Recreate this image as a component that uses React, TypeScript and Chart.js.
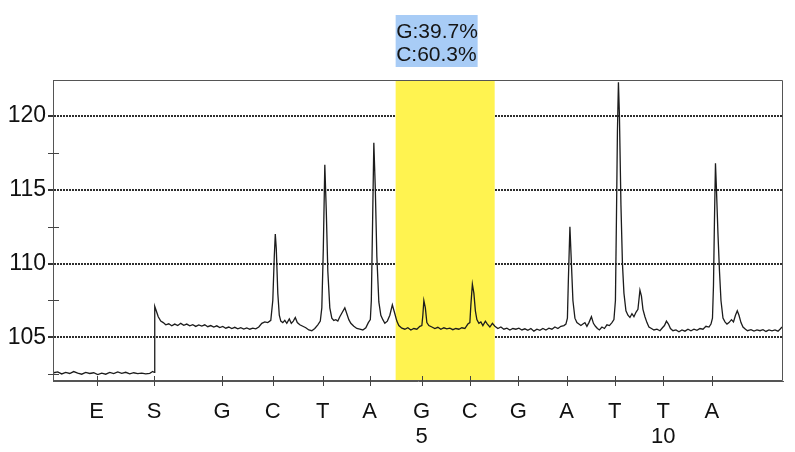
import React, { useEffect, useRef } from 'react';
import { Chart, registerables } from 'chart.js';

Chart.register(...registerables);

// Dispensation order (x positions in run-time units), letters and cycle numbers
const dispensationPositions = [8.7, 20.2, 33.8, 43.9, 53.9, 63.3, 73.7, 83.3, 93.0, 102.7, 112.3, 122.0, 131.7];
const dispensationLetters = ['E', 'S', 'G', 'C', 'T', 'A', 'G', 'C', 'G', 'A', 'T', 'T', 'A'];
const dispensationNumbers = ['', '', '', '', '', '', '5', '', '', '', '', '10', ''];

// Y axis
const yMajorTicks = [105, 110, 115, 120];
const yMinorTicks = [102.5, 107.5, 112.5, 117.5];
const yMin = 102.04;
const yMax = 122.45;
const xMin = 0;
const xMax = 145.94;

// Highlighted SNP position and allele quantification
const highlightRange = [68.5, 88.3];
const highlightLabels = ['G:39.7%', 'C:60.3%'];

// Pyrogram trace: [time, signal]
const trace: [number, number][] = [
  [0.14, 102.6], [0.94, 102.66], [1.74, 102.52], [2.54, 102.62], [3.34, 102.55], [4.14, 102.68],
  [4.94, 102.58], [5.74, 102.5], [6.54, 102.62], [7.34, 102.55], [8.14, 102.6], [8.94, 102.48],
  [9.74, 102.57], [10.54, 102.5], [11.34, 102.62], [12.14, 102.54], [12.94, 102.66], [13.74, 102.56],
  [14.54, 102.63], [15.34, 102.52], [16.14, 102.6], [16.94, 102.54], [17.74, 102.58], [18.54, 102.52],
  [19.34, 102.56], [19.94, 102.68], [20.24, 102.62],
  [20.34, 107.1], [20.64, 106.8], [21.04, 106.4], [21.54, 106.1], [22.04, 106.0], [22.54, 105.85],
  [23.14, 105.92], [23.74, 105.78], [24.34, 105.9], [24.94, 105.8], [25.54, 105.95], [26.14, 105.82],
  [26.74, 105.9], [27.34, 105.78], [27.94, 105.86], [28.54, 105.74], [29.14, 105.84], [29.74, 105.76],
  [30.34, 105.85], [30.94, 105.72], [31.54, 105.8], [32.14, 105.7], [32.74, 105.78], [33.34, 105.66],
  [33.94, 105.74], [34.54, 105.62], [35.14, 105.7], [35.74, 105.6], [36.34, 105.68], [36.94, 105.58],
  [37.54, 105.66], [38.14, 105.56], [38.74, 105.64], [39.34, 105.55], [39.94, 105.62], [40.54, 105.58],
  [41.14, 105.7], [41.74, 105.95], [42.34, 106.05], [42.94, 106.0], [43.54, 106.15],
  [43.94, 107.5], [44.24, 110.5], [44.44, 112.0], [44.64, 111.0], [44.94, 108.0], [45.24, 106.5],
  [45.54, 106.1], [45.94, 106.0], [46.34, 106.15], [46.74, 105.95], [47.24, 106.25], [47.64, 105.95],
  [48.04, 106.1], [48.44, 106.35], [48.84, 106.0], [49.34, 105.85], [49.94, 105.75], [50.54, 105.65],
  [51.14, 105.5], [51.74, 105.45], [52.34, 105.6], [52.94, 105.85], [53.44, 106.1],
  [53.74, 107.0], [54.04, 111.0], [54.34, 116.7], [54.64, 113.5], [54.94, 109.5], [55.34, 107.0],
  [55.74, 106.3], [56.14, 106.15], [56.54, 106.2], [56.94, 106.1], [57.34, 106.4], [57.84, 106.7],
  [58.34, 107.0], [58.74, 106.6], [59.14, 106.2], [59.54, 105.95], [60.14, 105.75], [60.74, 105.6],
  [61.34, 105.55], [61.94, 105.5], [62.54, 105.65], [63.04, 106.0], [63.44, 106.2],
  [63.64, 107.5], [63.9, 113.0], [64.14, 118.2], [64.44, 115.0], [64.74, 110.5], [65.14, 107.4],
  [65.54, 106.5], [65.94, 106.2], [66.34, 105.95], [66.84, 106.1], [67.34, 106.5], [67.84, 107.2],
  [68.34, 106.6], [68.74, 106.1], [69.14, 105.8], [69.74, 105.62], [70.34, 105.55], [70.94, 105.65],
  [71.54, 105.5], [72.14, 105.6], [72.74, 105.55], [73.34, 105.75], [73.74, 105.8],
  [73.94, 106.5], [74.14, 107.5], [74.44, 107.0], [74.74, 106.0], [75.14, 105.8], [75.74, 105.7],
  [76.34, 105.6], [76.94, 105.68], [77.54, 105.55], [78.14, 105.65], [78.74, 105.58], [79.34, 105.62],
  [79.94, 105.52], [80.54, 105.6], [81.14, 105.55], [81.74, 105.65], [82.34, 105.6], [82.94, 105.9],
  [83.34, 106.0], [83.54, 107.2], [83.84, 108.6], [84.14, 108.0], [84.44, 106.8], [84.74, 106.2],
  [85.14, 105.95], [85.54, 106.05], [85.94, 105.8], [86.44, 106.1], [86.84, 105.9], [87.34, 105.7],
  [87.84, 105.95], [88.34, 105.75], [88.94, 105.6], [89.54, 105.7], [90.14, 105.55], [90.74, 105.62],
  [91.34, 105.5], [91.94, 105.6], [92.54, 105.55], [93.14, 105.62], [93.74, 105.5], [94.34, 105.58],
  [94.94, 105.48], [95.54, 105.6], [96.14, 105.42], [96.74, 105.55], [97.34, 105.48], [97.94, 105.6],
  [98.54, 105.5], [99.14, 105.62], [99.74, 105.55], [100.34, 105.7], [100.94, 105.6], [101.54, 105.75],
  [102.14, 105.8], [102.54, 105.9], [102.84, 106.3],
  [103.04, 109.0], [103.34, 112.5], [103.64, 110.0], [103.94, 107.5], [104.34, 106.3], [104.74, 106.0],
  [105.14, 105.9], [105.54, 105.8], [105.94, 105.9], [106.34, 106.0], [106.74, 105.75], [107.14, 106.0],
  [107.64, 106.4], [108.04, 105.95], [108.44, 105.75], [108.84, 105.6], [109.24, 105.5], [109.74, 105.7],
  [110.24, 105.6], [110.74, 105.85], [111.24, 105.8], [111.74, 106.0], [112.14, 106.2],
  [112.44, 107.5], [112.64, 113.0], [112.84, 119.0], [113.04, 122.3], [113.24, 120.0], [113.54, 114.0],
  [113.84, 110.0], [114.14, 108.0], [114.54, 106.8], [114.94, 106.5], [115.34, 106.35], [115.74, 106.6],
  [116.14, 106.4], [116.54, 106.7], [116.94, 106.9], [117.34, 108.2], [117.64, 107.8], [117.94, 106.9],
  [118.34, 106.4], [118.74, 106.0], [119.14, 105.7], [119.64, 105.6], [120.14, 105.5], [120.74, 105.55],
  [121.34, 105.45], [121.84, 105.65], [122.24, 105.8], [122.64, 106.1], [123.04, 105.9], [123.44, 105.6],
  [123.94, 105.45], [124.54, 105.5], [125.14, 105.38], [125.74, 105.5], [126.34, 105.42], [126.94, 105.55],
  [127.54, 105.45], [128.14, 105.55], [128.74, 105.48], [129.34, 105.6], [129.94, 105.55], [130.54, 105.75],
  [131.14, 105.7], [131.54, 105.9], [131.84, 106.3],
  [132.04, 108.5], [132.24, 113.0], [132.44, 116.8], [132.64, 115.0], [132.94, 112.0], [133.24, 109.5],
  [133.54, 107.5], [133.94, 106.3], [134.34, 106.05], [134.74, 105.9], [135.14, 106.0], [135.64, 106.2],
  [136.04, 106.05], [136.44, 106.5], [136.8, 106.8], [137.14, 106.5], [137.54, 106.0], [137.94, 105.7],
  [138.44, 105.55], [138.84, 105.45], [139.54, 105.52], [140.14, 105.42], [140.74, 105.5], [141.34, 105.45],
  [141.94, 105.52], [142.54, 105.4], [143.14, 105.5], [143.74, 105.44], [144.34, 105.5], [144.94, 105.42],
  [145.34, 105.55], [145.74, 105.7],
];

const FONT = '"Liberation Sans", Arial, Helvetica, sans-serif';
const YELLOW = 'rgb(255, 243, 80)';
const BLUE = 'rgb(168, 204, 246)';
const FRAME = '#555555';

const decorPlugin = {
  id: 'pyroDecor',
  beforeDatasetsDraw(chart: any) {
    const { ctx, chartArea, scales } = chart;
    const x0 = scales.x.getPixelForValue(highlightRange[0]);
    const x1 = scales.x.getPixelForValue(highlightRange[1]);
    ctx.save();
    ctx.fillStyle = YELLOW;
    ctx.fillRect(x0, chartArea.top, x1 - x0, chartArea.bottom - chartArea.top);
    ctx.restore();
  },
  afterDraw(chart: any) {
    const { ctx, chartArea, scales } = chart;
    const { left, right, top, bottom } = chartArea;
    ctx.save();
    // frame
    ctx.strokeStyle = FRAME;
    ctx.lineWidth = 1;
    ctx.beginPath();
    ctx.moveTo(left + 0.5, top + 0.5);
    ctx.lineTo(right - 0.5, top + 0.5);
    ctx.lineTo(right - 0.5, bottom - 0.5);
    ctx.lineTo(left + 0.5, bottom - 0.5);
    ctx.closePath();
    ctx.stroke();
    // x ticks crossing the axis
    ctx.strokeStyle = '#444';
    ctx.beginPath();
    dispensationPositions.forEach((v) => {
      const px = Math.round(scales.x.getPixelForValue(v)) + 0.5;
      ctx.moveTo(px, bottom - 5);
      ctx.lineTo(px, bottom + 5);
    });
    // y minor ticks crossing the axis
    yMinorTicks.forEach((v) => {
      const py = Math.round(scales.y.getPixelForValue(v)) + 0.5;
      ctx.moveTo(left - 5, py);
      ctx.lineTo(left + 6, py);
    });
    ctx.stroke();
    // allele box
    const bx = scales.x.getPixelForValue(highlightRange[0]);
    ctx.fillStyle = BLUE;
    ctx.fillRect(bx, 15, 82, 52);
    ctx.fillStyle = '#151515';
    ctx.font = `21px ${FONT}`;
    ctx.textAlign = 'left';
    ctx.textBaseline = 'middle';
    ctx.fillText(highlightLabels[0], bx + 0.5, 32);
    ctx.fillText(highlightLabels[1], bx + 0.5, 55);
    ctx.restore();
  },
};

export default function App() {
  const canvasRef = useRef<HTMLCanvasElement | null>(null);

  useEffect(() => {
    if (!canvasRef.current) return;
    const chart = new Chart(canvasRef.current, {
      type: 'line',
      data: {
        datasets: [
          {
            data: trace.map(([x, y]) => ({ x, y })),
            borderColor: '#1c1c1c',
            borderWidth: 1.3,
            pointRadius: 0,
            tension: 0,
            fill: false,
          },
        ],
      },
      options: {
        animation: false,
        responsive: false,
        maintainAspectRatio: false,
        devicePixelRatio: 1,
        layout: { padding: { top: 80, right: 12, left: 0, bottom: 0 } },
        plugins: { legend: { display: false }, tooltip: { enabled: false } },
        scales: {
          x: {
            type: 'linear',
            min: xMin,
            max: xMax,
            afterBuildTicks: (scale: any) => {
              scale.ticks = dispensationPositions.map((v) => ({ value: v }));
            },
            afterFit: (scale: any) => {
              scale.height = 71;
            },
            grid: { display: false, drawTicks: false },
            border: { display: true, color: FRAME, width: 1 },
            ticks: {
              autoSkip: false,
              maxRotation: 0,
              padding: 18,
              color: '#111',
              font: { family: FONT, size: 22, lineHeight: 1.14 },
              callback: (_v: any, i: number) =>
                dispensationNumbers[i] ? [dispensationLetters[i], dispensationNumbers[i]] : dispensationLetters[i],
            },
          },
          y: {
            type: 'linear',
            min: yMin,
            max: yMax,
            afterBuildTicks: (scale: any) => {
              scale.ticks = yMajorTicks.map((v) => ({ value: v }));
            },
            afterFit: (scale: any) => {
              scale.width = 53;
            },
            grid: {
              color: '#2e2e2e',
              lineWidth: 2,
              drawTicks: true,
              tickLength: 5,
              tickColor: '#333',
              tickWidth: 2,
            },
            border: { display: true, color: FRAME, width: 1, dash: [2, 1] },
            ticks: {
              padding: 2,
              color: '#111',
              font: { family: FONT, size: 23 },
            },
          },
        },
      },
      plugins: [decorPlugin],
    } as any);
    return () => chart.destroy();
  }, []);

  return (
    <div style={{ position: 'fixed', left: 0, top: 0, width: 795, height: 452, background: '#fff' }}>
      <canvas ref={canvasRef} width={795} height={452} />
    </div>
  );
}
